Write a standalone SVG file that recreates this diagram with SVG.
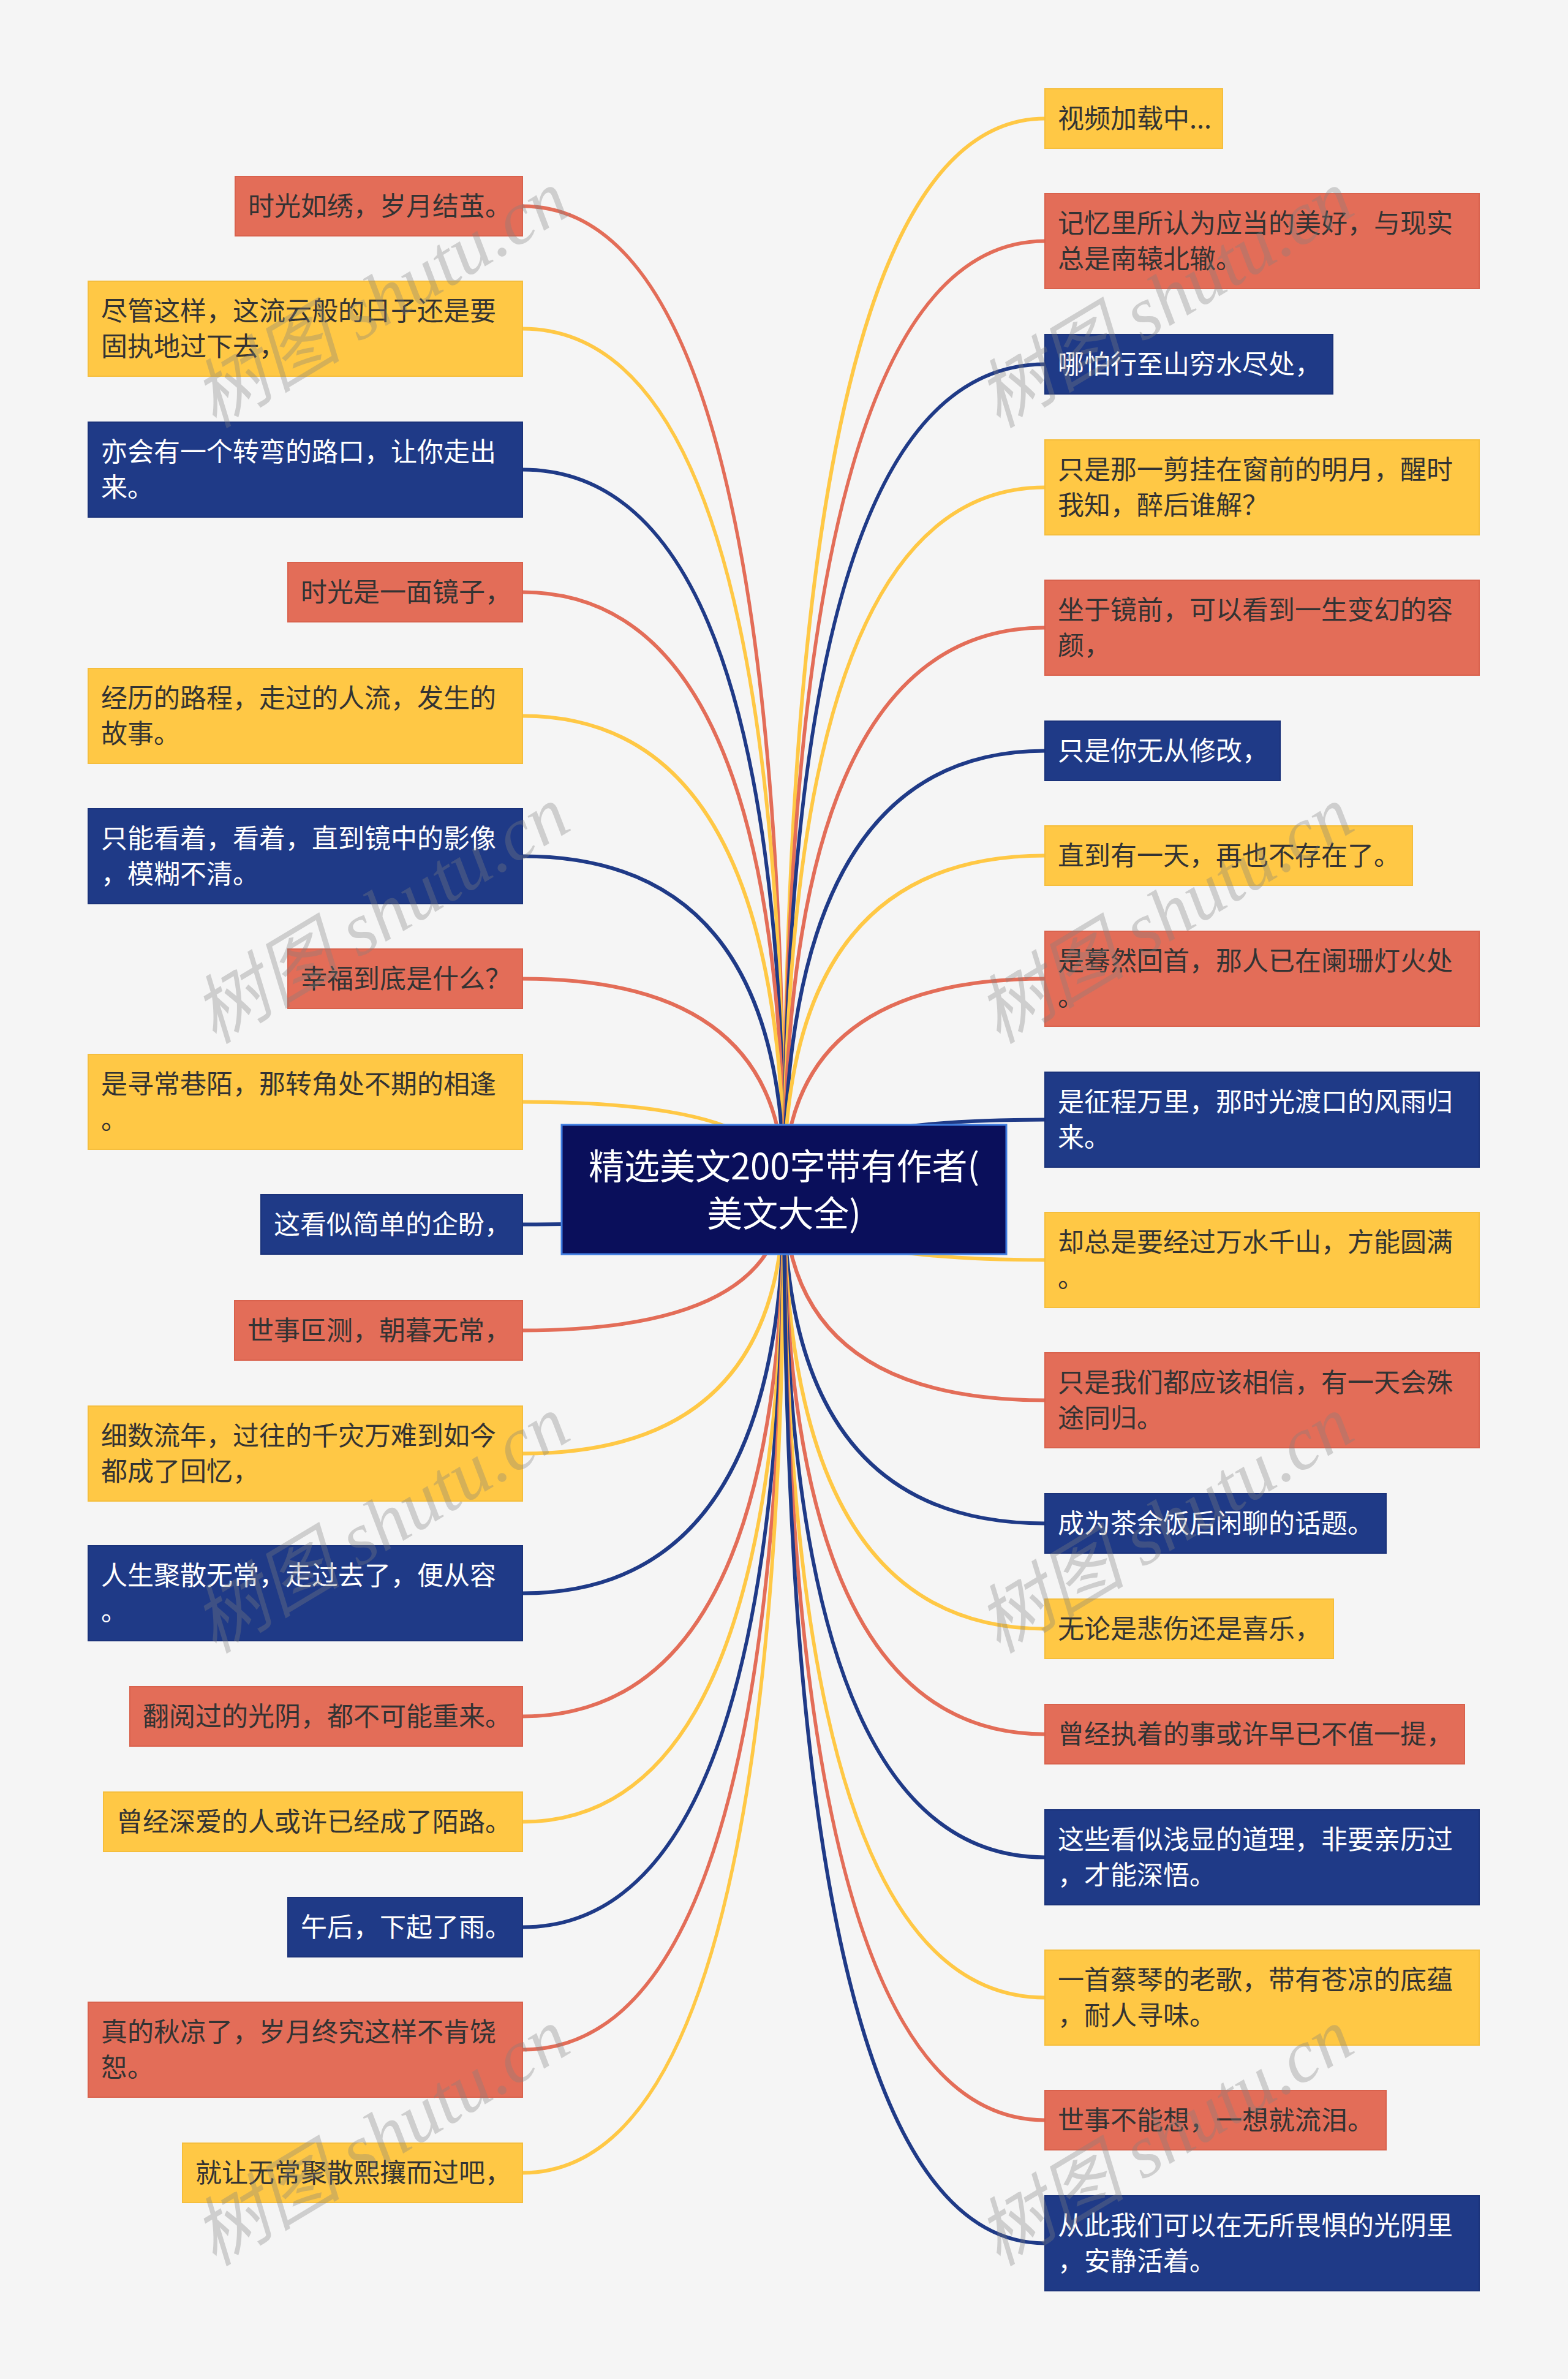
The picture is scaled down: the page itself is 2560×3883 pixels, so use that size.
<svg xmlns="http://www.w3.org/2000/svg" width="2560" height="3883" viewBox="0 0 2560 3883">
<style>
.bg{fill:#F5F5F5}
.nr{fill:#E36D58;stroke:#D9624D;stroke-width:2}
.ny{fill:#FFC845;stroke:#F5BE3D;stroke-width:2}
.nb{fill:#1F3A87;stroke:#1A327A;stroke-width:2}
text{font-family:"Noto Sans CJK SC","Noto Sans",sans-serif;font-size:43px}
.td{fill:#333333}
.tw{fill:#FFFFFF}
.c{fill:none;stroke-width:6}
.cr{stroke:#E36D58}
.cy{stroke:#FFC845}
.cb{stroke:#1F3A87}
.root{fill:#0A0F5B;stroke:#3F7CE0;stroke-width:3}
.rt{fill:#FFFFFF;font-size:58px;text-anchor:middle}
.wm{font-family:"Liberation Serif","Noto Sans CJK SC",serif;font-style:italic;font-size:122px;fill:#808080;opacity:0.33}
</style>
<rect class="bg" x="0" y="0" width="2560" height="3883"/>
<g id="connectors">
<path class="c cr" d="M853,336.5 Q1280,336.5 1280,1941"/>
<path class="c cy" d="M853,536.5 Q1280,536.5 1280,1941"/>
<path class="c cb" d="M853,766.5 Q1280,766.5 1280,1941"/>
<path class="c cr" d="M853,966.5 Q1280,966.5 1280,1941"/>
<path class="c cy" d="M853,1168.5 Q1280,1168.5 1280,1941"/>
<path class="c cb" d="M853,1397.5 Q1280,1397.5 1280,1941"/>
<path class="c cr" d="M853,1597.5 Q1280,1597.5 1280,1941"/>
<path class="c cy" d="M853,1798.5 Q1280,1798.5 1280,1941"/>
<path class="c cb" d="M853,1998.5 Q1280,1998.5 1280,1941"/>
<path class="c cr" d="M853,2171.5 Q1280,2171.5 1280,1941"/>
<path class="c cy" d="M853,2372.5 Q1280,2372.5 1280,1941"/>
<path class="c cb" d="M853,2600.5 Q1280,2600.5 1280,1941"/>
<path class="c cr" d="M853,2801.5 Q1280,2801.5 1280,1941"/>
<path class="c cy" d="M853,2973.5 Q1280,2973.5 1280,1941"/>
<path class="c cb" d="M853,3145.5 Q1280,3145.5 1280,1941"/>
<path class="c cr" d="M853,3345.5 Q1280,3345.5 1280,1941"/>
<path class="c cy" d="M853,3546.5 Q1280,3546.5 1280,1941"/>
<path class="c cy" d="M1706,193.5 Q1280,193.5 1280,1941"/>
<path class="c cr" d="M1706,393.5 Q1280,393.5 1280,1941"/>
<path class="c cb" d="M1706,594.5 Q1280,594.5 1280,1941"/>
<path class="c cy" d="M1706,795.5 Q1280,795.5 1280,1941"/>
<path class="c cr" d="M1706,1024.5 Q1280,1024.5 1280,1941"/>
<path class="c cb" d="M1706,1225.5 Q1280,1225.5 1280,1941"/>
<path class="c cy" d="M1706,1396.5 Q1280,1396.5 1280,1941"/>
<path class="c cr" d="M1706,1597.5 Q1280,1597.5 1280,1941"/>
<path class="c cb" d="M1706,1827.5 Q1280,1827.5 1280,1941"/>
<path class="c cy" d="M1706,2056.5 Q1280,2056.5 1280,1941"/>
<path class="c cr" d="M1706,2285.5 Q1280,2285.5 1280,1941"/>
<path class="c cb" d="M1706,2486.5 Q1280,2486.5 1280,1941"/>
<path class="c cy" d="M1706,2658.5 Q1280,2658.5 1280,1941"/>
<path class="c cr" d="M1706,2830.5 Q1280,2830.5 1280,1941"/>
<path class="c cb" d="M1706,3031.5 Q1280,3031.5 1280,1941"/>
<path class="c cy" d="M1706,3260.5 Q1280,3260.5 1280,1941"/>
<path class="c cr" d="M1706,3460.5 Q1280,3460.5 1280,1941"/>
<path class="c cb" d="M1706,3661.5 Q1280,3661.5 1280,1941"/>
</g>
<g id="root">
<rect class="root" x="917" y="1836" width="726" height="211"/>
<text class="rt" x="1280" y="1925">精选美文200字带有作者(</text>
<text class="rt" x="1280" y="2002">美文大全)</text>
</g>
<g id="L1"><rect class="nr" x="384" y="288" width="469" height="97"/><text class="td" x="405" y="351.5">时光如绣，岁月结茧。</text></g>
<g id="L2"><rect class="ny" x="144" y="459" width="709" height="155"/><text class="td" x="165" y="522.5">尽管这样，这流云般的日子还是要</text><text class="td" x="165" y="580.5">固执地过下去，</text></g>
<g id="L3"><rect class="nb" x="144" y="689" width="709" height="155"/><text class="tw" x="165" y="752.5">亦会有一个转弯的路口，让你走出</text><text class="tw" x="165" y="810.5">来。</text></g>
<g id="L4"><rect class="nr" x="470" y="918" width="383" height="97"/><text class="td" x="491" y="981.5">时光是一面镜子，</text></g>
<g id="L5"><rect class="ny" x="144" y="1091" width="709" height="155"/><text class="td" x="165" y="1154.5">经历的路程，走过的人流，发生的</text><text class="td" x="165" y="1212.5">故事。</text></g>
<g id="L6"><rect class="nb" x="144" y="1320" width="709" height="155"/><text class="tw" x="165" y="1383.5">只能看着，看着，直到镜中的影像</text><text class="tw" x="165" y="1441.5">，模糊不清。</text></g>
<g id="L7"><rect class="nr" x="470" y="1549" width="383" height="97"/><text class="td" x="491" y="1612.5">幸福到底是什么？</text></g>
<g id="L8"><rect class="ny" x="144" y="1721" width="709" height="155"/><text class="td" x="165" y="1784.5">是寻常巷陌，那转角处不期的相逢</text><text class="td" x="165" y="1842.5">。</text></g>
<g id="L9"><rect class="nb" x="426" y="1950" width="427" height="97"/><text class="tw" x="447" y="2013.5">这看似简单的企盼，</text></g>
<g id="L10"><rect class="nr" x="383" y="2123" width="470" height="97"/><text class="td" x="404" y="2186.5">世事叵测，朝暮无常，</text></g>
<g id="L11"><rect class="ny" x="144" y="2295" width="709" height="155"/><text class="td" x="165" y="2358.5">细数流年，过往的千灾万难到如今</text><text class="td" x="165" y="2416.5">都成了回忆，</text></g>
<g id="L12"><rect class="nb" x="144" y="2523" width="709" height="155"/><text class="tw" x="165" y="2586.5">人生聚散无常，走过去了，便从容</text><text class="tw" x="165" y="2644.5">。</text></g>
<g id="L13"><rect class="nr" x="212" y="2753" width="641" height="97"/><text class="td" x="233" y="2816.5">翻阅过的光阴，都不可能重来。</text></g>
<g id="L14"><rect class="ny" x="169" y="2925" width="684" height="97"/><text class="td" x="190" y="2988.5">曾经深爱的人或许已经成了陌路。</text></g>
<g id="L15"><rect class="nb" x="470" y="3097" width="383" height="97"/><text class="tw" x="491" y="3160.5">午后，下起了雨。</text></g>
<g id="L16"><rect class="nr" x="144" y="3268" width="709" height="155"/><text class="td" x="165" y="3331.5">真的秋凉了，岁月终究这样不肯饶</text><text class="td" x="165" y="3389.5">恕。</text></g>
<g id="L17"><rect class="ny" x="298" y="3498" width="555" height="97"/><text class="td" x="319" y="3561.5">就让无常聚散熙攘而过吧，</text></g>
<g id="R1"><rect class="ny" x="1706" y="145" width="290" height="97"/><text class="td" x="1727" y="208.5">视频加载中...</text></g>
<g id="R2"><rect class="nr" x="1706" y="316" width="709" height="155"/><text class="td" x="1727" y="379.5">记忆里所认为应当的美好，与现实</text><text class="td" x="1727" y="437.5">总是南辕北辙。</text></g>
<g id="R3"><rect class="nb" x="1706" y="546" width="470" height="97"/><text class="tw" x="1727" y="609.5">哪怕行至山穷水尽处，</text></g>
<g id="R4"><rect class="ny" x="1706" y="718" width="709" height="155"/><text class="td" x="1727" y="781.5">只是那一剪挂在窗前的明月，醒时</text><text class="td" x="1727" y="839.5">我知，醉后谁解？</text></g>
<g id="R5"><rect class="nr" x="1706" y="947" width="709" height="155"/><text class="td" x="1727" y="1010.5">坐于镜前，可以看到一生变幻的容</text><text class="td" x="1727" y="1068.5">颜，</text></g>
<g id="R6"><rect class="nb" x="1706" y="1177" width="384" height="97"/><text class="tw" x="1727" y="1240.5">只是你无从修改，</text></g>
<g id="R7"><rect class="ny" x="1706" y="1348" width="600" height="97"/><text class="td" x="1727" y="1411.5">直到有一天，再也不存在了。</text></g>
<g id="R8"><rect class="nr" x="1706" y="1520" width="709" height="155"/><text class="td" x="1727" y="1583.5">是蓦然回首，那人已在阑珊灯火处</text><text class="td" x="1727" y="1641.5">。</text></g>
<g id="R9"><rect class="nb" x="1706" y="1750" width="709" height="155"/><text class="tw" x="1727" y="1813.5">是征程万里，那时光渡口的风雨归</text><text class="tw" x="1727" y="1871.5">来。</text></g>
<g id="R10"><rect class="ny" x="1706" y="1979" width="709" height="155"/><text class="td" x="1727" y="2042.5">却总是要经过万水千山，方能圆满</text><text class="td" x="1727" y="2100.5">。</text></g>
<g id="R11"><rect class="nr" x="1706" y="2208" width="709" height="155"/><text class="td" x="1727" y="2271.5">只是我们都应该相信，有一天会殊</text><text class="td" x="1727" y="2329.5">途同归。</text></g>
<g id="R12"><rect class="nb" x="1706" y="2438" width="557" height="97"/><text class="tw" x="1727" y="2501.5">成为茶余饭后闲聊的话题。</text></g>
<g id="R13"><rect class="ny" x="1706" y="2610" width="471" height="97"/><text class="td" x="1727" y="2673.5">无论是悲伤还是喜乐，</text></g>
<g id="R14"><rect class="nr" x="1706" y="2782" width="685" height="97"/><text class="td" x="1727" y="2845.5">曾经执着的事或许早已不值一提，</text></g>
<g id="R15"><rect class="nb" x="1706" y="2954" width="709" height="155"/><text class="tw" x="1727" y="3017.5">这些看似浅显的道理，非要亲历过</text><text class="tw" x="1727" y="3075.5">，才能深悟。</text></g>
<g id="R16"><rect class="ny" x="1706" y="3183" width="709" height="155"/><text class="td" x="1727" y="3246.5">一首蔡琴的老歌，带有苍凉的底蕴</text><text class="td" x="1727" y="3304.5">，耐人寻味。</text></g>
<g id="R17"><rect class="nr" x="1706" y="3412" width="557" height="97"/><text class="td" x="1727" y="3475.5">世事不能想，一想就流泪。</text></g>
<g id="R18"><rect class="nb" x="1706" y="3584" width="709" height="155"/><text class="tw" x="1727" y="3647.5">从此我们可以在无所畏惧的光阴里</text><text class="tw" x="1727" y="3705.5">，安静活着。</text></g>
<g id="watermarks">
<text class="wm" transform="translate(350,700) rotate(-31)">树图 shutu.cn</text>
<text class="wm" transform="translate(1630,700) rotate(-31)">树图 shutu.cn</text>
<text class="wm" transform="translate(350,1705) rotate(-31)">树图 shutu.cn</text>
<text class="wm" transform="translate(1630,1705) rotate(-31)">树图 shutu.cn</text>
<text class="wm" transform="translate(350,2700) rotate(-31)">树图 shutu.cn</text>
<text class="wm" transform="translate(1630,2700) rotate(-31)">树图 shutu.cn</text>
<text class="wm" transform="translate(350,3700) rotate(-31)">树图 shutu.cn</text>
<text class="wm" transform="translate(1630,3700) rotate(-31)">树图 shutu.cn</text>
</g>
</svg>
